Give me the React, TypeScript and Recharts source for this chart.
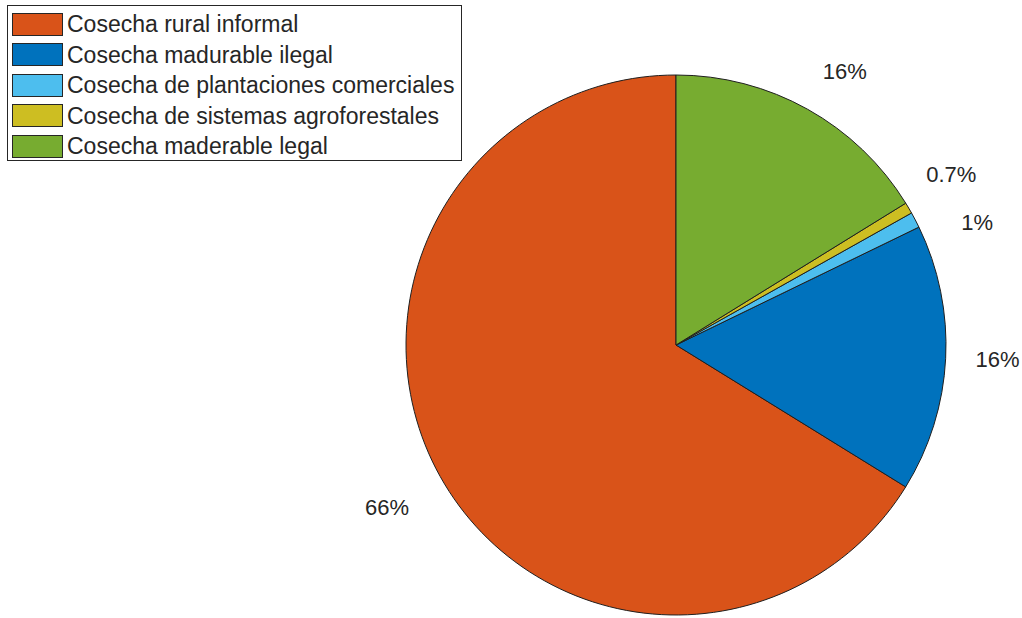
import React from 'react';
import { PieChart, Pie, Cell, Legend } from 'recharts';

const categories = [
  'Cosecha rural informal',
  'Cosecha madurable ilegal',
  'Cosecha de plantaciones comerciales',
  'Cosecha de sistemas agroforestales',
  'Cosecha maderable legal',
];
const shares = [66.2, 16.0, 0.94, 0.67, 16.2];
const pctLabels = ['66%', '16%', '1%', '0.7%', '16%'];
const colors = ['#D95319', '#0072BD', '#4DBEEE', '#CDBE22', '#77AC30'];
// label nudges (px) applied after placing labels at 1.2 R
const labelNudge: [number, number][] = [
  [-6, 5],
  [-2, -2],
  [14, 28],
  [-4, -6],
  [11, 9],
];

const data = categories.map((name, i) => ({ name, value: shares[i] }));

const FONT = 'Arial, "Liberation Sans", Helvetica, sans-serif';
const RAD = Math.PI / 180;

const renderLabel = (p: any) => {
  const { cx, cy, midAngle, outerRadius, index } = p;
  const r = outerRadius * 1.2;
  const x = cx + r * Math.cos(-midAngle * RAD) + labelNudge[index][0];
  const y = cy + r * Math.sin(-midAngle * RAD) + labelNudge[index][1];
  return (
    <text
      x={x}
      y={y}
      textAnchor="middle"
      dominantBaseline="central"
      fill="#262626"
      fontSize={22}
      fontFamily={FONT}
    >
      {pctLabels[index]}
    </text>
  );
};

const LegendBox = () => (
  <div
    style={{
      width: 455,
      height: 156,
      border: '1px solid #262626',
      background: '#fff',
      boxSizing: 'border-box',
      position: 'relative',
      fontFamily: FONT,
    }}
  >
    {categories.map((c, i) => (
      <div
        key={c}
        style={{
          position: 'absolute',
          left: 4,
          top: 6 + i * 30.5,
          height: 24,
          display: 'flex',
          alignItems: 'center',
        }}
      >
        <div
          style={{
            width: 51,
            height: 23,
            background: colors[i],
            border: '1px solid #262626',
            boxSizing: 'border-box',
          }}
        />
        <span
          style={{
            marginLeft: 4,
            fontSize: 23,
            color: '#262626',
            whiteSpace: 'nowrap',
            lineHeight: '24px',
          }}
        >
          {c}
        </span>
      </div>
    ))}
  </div>
);

export default function App() {
  return (
    <div style={{ position: 'absolute', left: 0, top: 0, width: 1022, height: 618, background: '#fff' }}>
      <PieChart width={1022} height={618} margin={{ top: 0, right: 0, bottom: 0, left: 0 }}>
        <Pie
          data={data}
          dataKey="value"
          nameKey="name"
          cx={676}
          cy={345}
          outerRadius={270}
          startAngle={90}
          endAngle={450}
          stroke="#1f1f1f"
          strokeWidth={1}
          label={renderLabel}
          labelLine={false}
          isAnimationActive={false}
        >
          {data.map((d, i) => (
            <Cell key={d.name} fill={colors[i]} />
          ))}
        </Pie>
        <Legend
          content={<LegendBox />}
          wrapperStyle={{ position: 'absolute', left: 7, top: 5, width: 455 }}
        />
      </PieChart>
    </div>
  );
}
